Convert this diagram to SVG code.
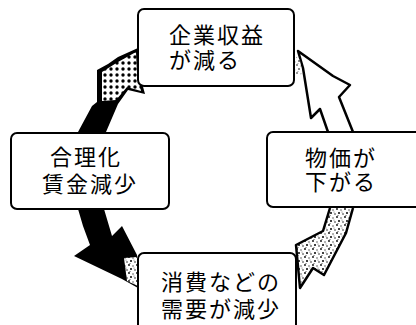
<svg xmlns="http://www.w3.org/2000/svg" width="416" height="325" viewBox="0 0 416 325">
  <defs>
    <pattern id="dots" width="6" height="6" patternUnits="userSpaceOnUse">
      <rect width="6" height="6" fill="#fff"/>
      <circle cx="3" cy="3" r="1.7" fill="#000"/>
    </pattern>
    <pattern id="speckle" width="8" height="8" patternUnits="userSpaceOnUse">
      <rect width="8" height="8" fill="#fff"/>
      <circle cx="1" cy="1" r="0.9" fill="#000"/>
      <circle cx="5" cy="2" r="0.7" fill="#333"/>
      <circle cx="3" cy="5" r="1" fill="#000"/>
      <circle cx="7" cy="6" r="0.8" fill="#222"/>
      <circle cx="6" cy="4" r="0.5" fill="#555"/>
      <circle cx="2" cy="7.5" r="0.6" fill="#444"/>
    </pattern>
    <style>
      .box { fill: #fff; stroke: #000; stroke-width: 2; }
      .lbl { font-family: "Liberation Sans", "Noto Sans CJK JP", sans-serif; font-size: 22px; fill: #000; letter-spacing: 2px; }
      .arrow { stroke: #000; stroke-width: 2.5; stroke-linejoin: round; }
    </style>
  </defs>
  <rect width="416" height="325" fill="#fff"/>

  <g id="connectors">
    <g id="arrow-left-top">
      <path d="M78,132 L92,106 L97,102 L97,70 L108,64 L118,57 L138,48 L139,72 L145,94 L128,90 L118,104 L106,132 Z" fill="#000"/>
      <path d="M102,72 L118,62 L136,52 L137,73 L141,91 L127,87 L116,100 L102,101 Z" fill="url(#dots)"/>
    </g>
    <g id="arrow-right-top">
      <path class="arrow" d="M328,132 L320,109 L311,118 L303,68 L298,51 L333,76 L350,85 L339,97 L353,132" fill="#fff"/>
      <path d="M295,56 L300,60 L302,74 L296,76 Z" fill="url(#speckle)" opacity="0.6"/>
    </g>
    <g id="arrow-left-bottom">
      <path d="M78,209 L104,209 L112,236 L122,226 L137,255 L138,288 L122,279 L74,256 L90,245 L83,226 Z" fill="#000"/>
      <path d="M124,258 L137,257 L138,286 L127,281 Z" fill="url(#speckle)"/>
    </g>
    <g id="arrow-right-bottom">
      <path class="arrow" d="M330,208 L323,231 L296,245 L300,288 L313,268 L324,275 L346,233 L353,208" fill="url(#speckle)"/>
    </g>
  </g>

  <g id="node-top">
    <rect class="box" x="138" y="9" width="156" height="77" rx="6"/>
    <text class="lbl"><tspan x="169" y="43">企業収益</tspan><tspan x="169" y="68">が減る</tspan></text>
  </g>
  <g id="node-right">
    <rect class="box" x="267" y="132" width="155" height="75" rx="6"/>
    <text class="lbl"><tspan x="305" y="166">物価が</tspan><tspan x="305" y="190">下がる</tspan></text>
  </g>
  <g id="node-bottom">
    <rect class="box" x="138" y="253" width="158" height="80" rx="6"/>
    <text class="lbl"><tspan x="161" y="290">消費などの</tspan><tspan x="161" y="317">需要が減少</tspan></text>
  </g>
  <g id="node-left">
    <rect class="box" x="11" y="133" width="158" height="76" rx="6"/>
    <text class="lbl"><tspan x="50" y="165">合理化</tspan><tspan x="42" y="192">賃金減少</tspan></text>
  </g>
</svg>
